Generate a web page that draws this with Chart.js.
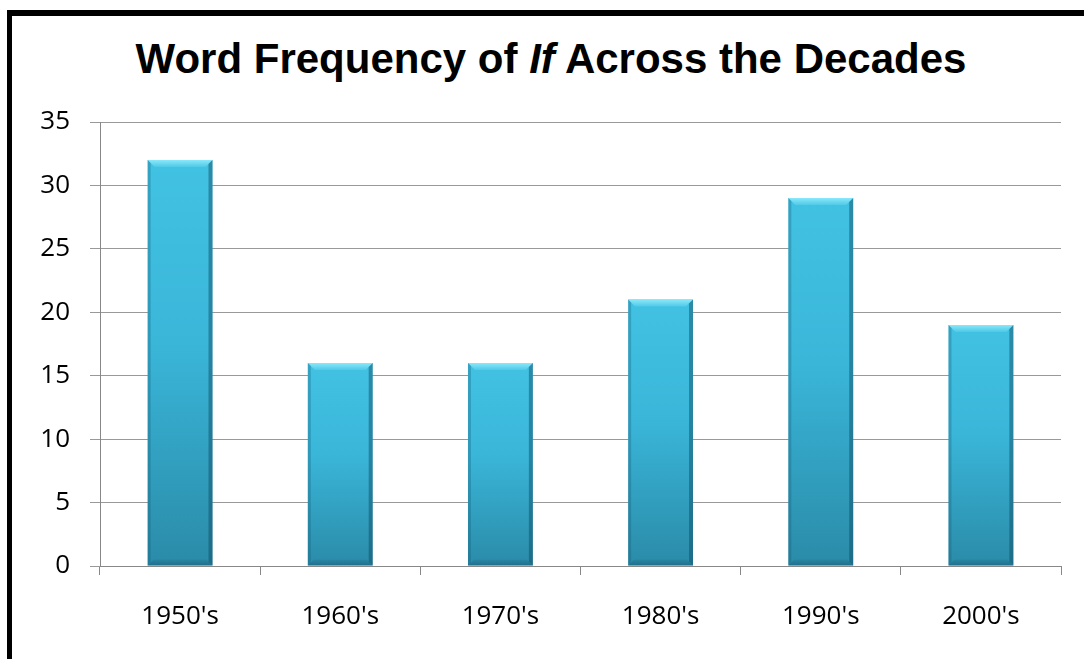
<!DOCTYPE html>
<html>
<head>
    <meta charset="UTF-8">
    <script src="https://cdn.jsdelivr.net/npm/chart.js"></script>
    <style>
        body { margin: 0; background: #fff; overflow: hidden; }
        .frame {
            position: absolute; left: 7px; top: 10px;
            width: 1100px; height: 700px;
            border-top: 6px solid #000; border-left: 5px solid #000;
        }
        .title {
            position: absolute; left: 7px; top: 35px; width: 1088px;
            text-align: center;
            font: bold 42px "Liberation Sans", Arial, sans-serif;
            color: #000;
        }
        #chart { position: absolute; left: 0; top: 0; }
    </style>
</head>
<body>
    <div class="frame"></div>
    <div class="title">Word Frequency of <i>If</i> Across the Decades</div>
    <canvas id="chart" width="1084" height="659"></canvas>

    <script>
        const decades = ["1950's", "1960's", "1970's", "1980's", "1990's", "2000's"];
        const counts = [32, 16, 16, 21, 29, 19];
        const yTicks = [0, 5, 10, 15, 20, 25, 30, 35];

        // vertical shading per bar
        function barFill(c) {
            const chart = c.chart;
            if (!chart.chartArea || !chart.scales.y) return '#38b2d4';
            const y = chart.scales.y;
            const top = y.getPixelForValue(c.raw);
            const bottom = y.getPixelForValue(0);
            const g = chart.ctx.createLinearGradient(0, top, 0, bottom);
            g.addColorStop(0, '#42c2e3');
            g.addColorStop(0.45, '#3ab6d9');
            g.addColorStop(1, '#2a8ba8');
            return g;
        }

        // bevel edges drawn on top of each bar
        const bevel = {
            id: 'bevel',
            afterDatasetsDraw(chart) {
                const ctx = chart.ctx;
                chart.getDatasetMeta(0).data.forEach(bar => {
                    const l = bar.x - bar.width / 2, r = bar.x + bar.width / 2;
                    const t = bar.y, b = bar.base, e = 7;
                    ctx.save();
                    // top bevel
                    let g = ctx.createLinearGradient(0, t, 0, t + e);
                    g.addColorStop(0, '#8ae8fa');
                    g.addColorStop(1, '#4ec9e8');
                    ctx.fillStyle = g;
                    ctx.beginPath();
                    ctx.moveTo(l, t); ctx.lineTo(r, t); ctx.lineTo(r - e, t + e); ctx.lineTo(l + e, t + e);
                    ctx.closePath(); ctx.fill();
                    // left edge
                    ctx.fillStyle = 'rgba(20,90,115,0.3)';
                    ctx.beginPath();
                    ctx.moveTo(l, t); ctx.lineTo(l + 3, t + 3); ctx.lineTo(l + 3, b - 3); ctx.lineTo(l, b);
                    ctx.closePath(); ctx.fill();
                    // right edge
                    ctx.fillStyle = 'rgba(15,70,95,0.45)';
                    ctx.beginPath();
                    ctx.moveTo(r, t); ctx.lineTo(r - 4, t + 4); ctx.lineTo(r - 4, b - 4); ctx.lineTo(r, b);
                    ctx.closePath(); ctx.fill();
                    // bottom edge
                    g = ctx.createLinearGradient(0, b - 6, 0, b);
                    g.addColorStop(0, 'rgba(15,70,95,0.1)');
                    g.addColorStop(1, 'rgba(15,70,95,0.4)');
                    ctx.fillStyle = g;
                    ctx.beginPath();
                    ctx.moveTo(l, b); ctx.lineTo(l + 6, b - 6); ctx.lineTo(r - 6, b - 6); ctx.lineTo(r, b);
                    ctx.closePath(); ctx.fill();
                    ctx.restore();
                });
            }
        };

        new Chart(document.getElementById('chart'), {
            type: 'bar',
            data: {
                labels: decades,
                datasets: [{
                    data: counts,
                    backgroundColor: barFill,
                    borderWidth: 0,
                    barPercentage: 0.405,
                    categoryPercentage: 1
                }]
            },
            options: {
                responsive: false,
                devicePixelRatio: 1,
                animation: false,
                layout: { padding: { top: 122, right: 23, left: 0, bottom: 0 } },
                plugins: { legend: { display: false }, tooltip: { enabled: false } },
                scales: {
                    x: {
                        afterFit: s => { s.height = 93; },
                        grid: { drawOnChartArea: false, tickLength: 9, color: '#888' },
                        border: { color: '#888' },
                        ticks: { color: '#000', padding: 26, font: { family: 'Open Sans', size: 26 } }
                    },
                    y: {
                        min: 0, max: 35,
                        afterFit: s => { s.width = 100; },
                        afterBuildTicks: s => { s.ticks = yTicks.map(v => ({ value: v })); },
                        grid: { tickLength: 10, color: '#999' },
                        border: { color: '#888' },
                        ticks: { color: '#000', padding: 20, font: { family: 'Open Sans', size: 26 } }
                    }
                }
            },
            plugins: [bevel]
        });
    </script>
</body>
</html>
